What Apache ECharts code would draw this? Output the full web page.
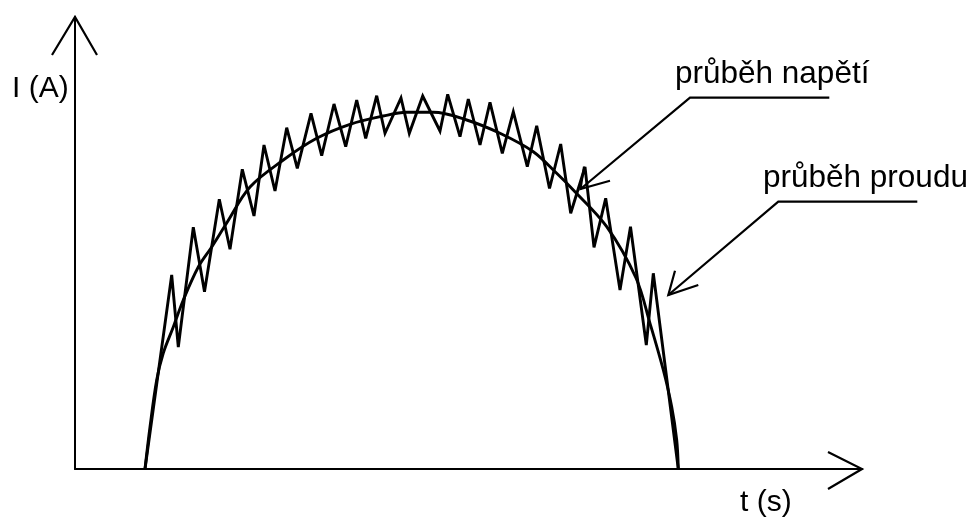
<!DOCTYPE html>
<html>
<head>
<meta charset="utf-8">
<script src="https://cdn.jsdelivr.net/npm/echarts@6/dist/echarts.min.js"></script>
<style>
html,body{margin:0;padding:0;background:#fff;}
#chart{width:971px;height:521px;}
</style>
</head>
<body>
<div id="chart"></div>
<script>
// ---- values (t on x, I on y; axis units) ----
const axisLabelY = 'I (A)';
const axisLabelX = 't (s)';
const voltageLabel = 'průběh napětí';
const currentLabel = 'průběh proudu';

// smooth curve: "průběh napětí"
const voltageT = [70, 75, 81.7, 88.3, 98.3, 108.3, 123.3, 136.7, 151.7, 175, 208.3, 241.7, 275, 308.3, 331.7, 358.3, 391.7, 425, 458.3, 481.7, 498.3, 531.7, 561, 575, 588.3, 596.7, 601.7, 603.3];
const voltageV = [0, 42, 89, 116, 142, 169, 202, 222, 246, 282, 309, 330.7, 344.7, 353, 356.7, 356.7, 349, 335.7, 317.3, 295.7, 279, 242.3, 191, 145.7, 99, 62.3, 29, 0];

// zig-zag: "průběh proudu"
const currentT = [70, 96.7, 103.3, 118.3, 129.5, 144.3, 155, 167.3, 179, 189, 200, 211.7, 222.3, 236, 246.7, 259, 270.7, 281.7, 290.7, 301.7, 310, 326, 334.3, 347.7, 365, 372.7, 385, 393.3, 405, 415, 427.3, 438.3, 452.3, 461.7, 474.5, 485.7, 495.7, 510, 519, 530.7, 545, 555.5, 571.3, 578.3, 603.3];
const currentV = [0, 194, 122, 241.7, 177.3, 269.7, 219.7, 299.7, 253, 324, 278, 341.3, 300.7, 355.7, 313.3, 365, 322.3, 369, 330.7, 373.3, 335.7, 371, 335.7, 373, 338, 374.7, 332.3, 370, 324, 366.7, 315.7, 357.3, 302.3, 343.3, 280.5, 325, 255.7, 302, 221.7, 270.7, 179, 242.3, 124, 195.7, 0];

// axis extents
const tMax = 787;
const iMax = 452;

// annotation geometry (axis units)
const yArrowHead = [[-23, 414], [0, 452], [22, 414]];
const xArrowHead = [[753, 17], [787, 0], [753, -20]];
const voltageLeader = [[754.3, 371.3], [615, 371.3], [505.5, 280]];
const voltageHead = [[535, 288.3], [505.5, 280], [509, 302.3]];
const currentLeader = [[842.3, 267.3], [703.3, 267.3], [593.3, 174]];
const currentHead = [[623.3, 184], [593.3, 174], [600, 198.3]];

function zip(a, b) { return a.map((v, i) => [v, b[i]]); }

const chart = echarts.init(document.getElementById('chart'), null, {renderer: 'canvas'});

const FONT_AXIS = '30px "Liberation Sans", Arial, Helvetica, sans-serif';
const FONT_NOTE = '31.5px "Liberation Sans", Arial, Helvetica, sans-serif';

function txt(s, x, baseline, font) {
  return {
    type: 'text', x: x, y: baseline - 10.6, silent: true, z: 10,
    style: {text: s, font: font, fill: '#000', verticalAlign: 'middle', textVerticalAlign: 'middle', align: 'left'}
  };
}

chart.setOption({
  backgroundColor: '#fff',
  animation: false,
  grid: {left: 75, right: 971 - 862, top: 17, bottom: 521 - 469, containLabel: false},
  xAxis: {
    type: 'value', min: 0, max: tMax,
    axisLine: {show: true, onZero: true, lineStyle: {color: '#000', width: 2}},
    axisTick: {show: false}, axisLabel: {show: false}, splitLine: {show: false}
  },
  yAxis: {
    type: 'value', min: 0, max: iMax,
    axisLine: {show: true, lineStyle: {color: '#000', width: 2}},
    axisTick: {show: false}, axisLabel: {show: false}, splitLine: {show: false}
  },
  series: [
    {
      name: voltageLabel, type: 'line', data: zip(voltageT, voltageV),
      showSymbol: false, symbol: 'none', smooth: 0.35, clip: false, silent: true,
      lineStyle: {color: '#000', width: 2.9}
    },
    {
      name: currentLabel, type: 'line', data: zip(currentT, currentV),
      showSymbol: false, symbol: 'none', smooth: false, clip: false, silent: true,
      lineStyle: {color: '#000', width: 2.9, join: 'miter', miterLimit: 4}
    }
  ]
});

// annotations: arrowheads and leader lines, placed through the chart's own scales
function poly(points, w) {
  return {
    type: 'polyline', silent: true, z: 10,
    shape: {points: points.map(p => chart.convertToPixel({gridIndex: 0}, p))},
    style: {stroke: '#000', lineWidth: w, fill: null, lineJoin: 'miter', lineCap: 'butt'}
  };
}

chart.setOption({
  graphic: [
    poly(yArrowHead, 2.2),
    poly(xArrowHead, 2.2),
    poly(voltageLeader, 2.2),
    poly(voltageHead, 2.2),
    poly(currentLeader, 2.2),
    poly(currentHead, 2.2),
    txt(axisLabelY, 12, 99, FONT_AXIS),
    txt(voltageLabel, 675, 85, FONT_NOTE),
    txt(currentLabel, 763, 189, FONT_NOTE),
    txt(axisLabelX, 740, 513, FONT_AXIS)
  ]
});
</script>
</body>
</html>
